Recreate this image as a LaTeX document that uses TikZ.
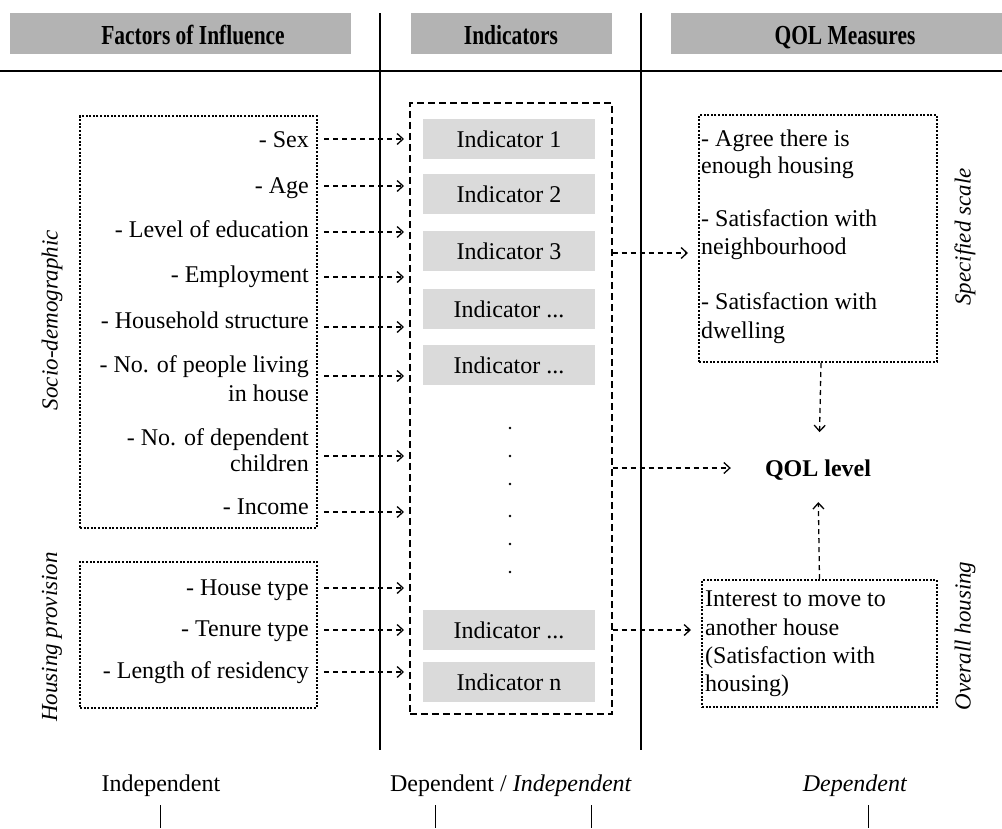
\documentclass[tikz,border=0pt]{standalone}
\usepackage{fontspec}
\setmainfont{Liberation Serif}
\newfontfamily\hdfont{Liberation Serif}[FakeStretch=0.78]
\usetikzlibrary{arrows.meta,calc}
\definecolor{hdgray}{HTML}{B3B3B3}
\definecolor{indgray}{HTML}{DADADA}
\begin{document}
\begin{tikzpicture}[x=1pt,y=-1pt,
  hdbox/.style={fill=hdgray, draw=none, anchor=north west, inner sep=0},
  hdtxt/.style={font=\hdfont\bfseries\fontsize{27.5}{30}\selectfont, anchor=base, inner sep=0},
  txt/.style={font=\fontsize{24}{28}\selectfont, inner sep=0},
  lt/.style={txt, anchor=base east},
  rt/.style={txt, anchor=base west},
  rot/.style={inner sep=0, font=\itshape\fontsize{23}{28}\selectfont, rotate=90},
  dotbox/.style={draw, line width=2pt, dash pattern=on 2pt off 1.6pt, anchor=north west, inner sep=0},
  dashbox/.style={draw, line width=1.7pt, dash pattern=on 7pt off 4pt, anchor=north west, inner sep=0},
  indbox/.style={fill=indgray, minimum width=172pt, minimum height=40pt, inner sep=0, font=\fontsize{24}{28}\selectfont},
  arr/.style={line width=1.3pt, dash pattern=on 5pt off 4pt, -{Straight Barb[length=6pt,width=11pt,line width=1.3pt]}},
  vline/.style={line width=1.4pt},
  tick/.style={line width=0.9pt},
  dot/.style={circle, fill, inner sep=0, minimum size=2.8pt}
]
\useasboundingbox (0,0) rectangle (1002,828);

% header
\node[hdbox, minimum width=341pt, minimum height=41pt] (h1) at (10,13) {};
\node[hdbox, minimum width=201pt, minimum height=41pt] (h2) at (411,13) {};
\node[hdbox, minimum width=331pt, minimum height=41pt] (h3) at (671,13) {};
\node[hdtxt] (h1t) at (193,44) {Factors of Influence};
\node[hdtxt] (h2t) at (511,44) {Indicators};
\node[hdtxt] (h3t) at (845,44) {QOL Measures};
\draw[line width=2.2pt] (0,71) -- (1002,71);
\draw[vline] (380,13) -- (380,750);
\draw[vline] (641,13) -- (641,750);

% left boxes
\node[dotbox, minimum width=237pt, minimum height=412pt] (socio) at (79,115) {};
\node[dotbox, minimum width=237pt, minimum height=146pt] (house) at (79,561) {};
\node[rot] (sociol) at (52,320) {Socio-demographic};
\node[rot] (housel) at (52,637) {Housing provision};

\node[lt] (f1) at (309,147) {- Sex};
\node[lt] (f2) at (309,193) {- Age};
\node[lt] (f3) at (309,237) {- Level of education};
\node[lt] (f4) at (309,282) {- Employment};
\node[lt] (f5) at (309,328) {- Household structure};
\node[lt] (f6a) at (309,372) {- No. of people living};
\node[lt] (f6b) at (309,401) {in house};
\node[lt] (f7a) at (309,445) {- No. of dependent};
\node[lt] (f7b) at (309,471) {children};
\node[lt] (f8) at (309,514) {- Income};
\node[lt] (f9) at (309,595) {- House type};
\node[lt] (f10) at (309,636) {- Tenure type};
\node[lt] (f11) at (309,678) {- Length of residency};

% indicators
\node[dashbox, minimum width=202pt, minimum height=611pt] (ind) at (409,102) {};
\node[indbox] (i1) at (509,139) {Indicator 1};
\node[indbox] (i2) at (509,194) {Indicator 2};
\node[indbox] (i3) at (509,251) {Indicator 3};
\node[indbox] (i4) at (509,309) {Indicator ...};
\node[indbox] (i5) at (509,365) {Indicator ...};
\node[indbox] (i6) at (509,630) {Indicator ...};
\node[indbox] (i7) at (509,682) {Indicator n};
\node[dot] (d1) at (510,428) {};
\node[dot] (d2) at (510,456) {};
\node[dot] (d3) at (510,484) {};
\node[dot] (d4) at (510,516) {};
\node[dot] (d5) at (510,544) {};
\node[dot] (d6) at (510,572) {};

% left arrows
\foreach \y in {139,186,232,277,327,376,456,512}{
  \draw[arr, shorten >=5pt] ($(socio.east |- 0,\y)+(6,0)$) -- (ind.west |- 0,\y);
}
\foreach \y in {588,630,672}{
  \draw[arr, shorten >=5pt] ($(house.east |- 0,\y)+(6,0)$) -- (ind.west |- 0,\y);
}

% right side
\node[dotbox, minimum width=238pt, minimum height=247pt] (spec) at (698,114) {};
\node[dotbox, minimum width=235pt, minimum height=127pt] (over) at (701,579) {};
\node[rot] (specl) at (965,237) {Specified scale};
\node[rot] (overl) at (965,636) {Overall housing};

\node[rt] (s1) at (701,146) {- Agree there is};
\node[rt] (s2) at (701,173) {enough housing};
\node[rt] (s3) at (701,226) {- Satisfaction with};
\node[rt] (s4) at (701,254) {neighbourhood};
\node[rt] (s5) at (701,309) {- Satisfaction with};
\node[rt] (s6) at (701,338) {dwelling};

\node[rt] (o1) at (705,606) {Interest to move to};
\node[rt] (o2) at (705,635) {another house};
\node[rt] (o3) at (705,663) {(Satisfaction with};
\node[rt] (o4) at (705,691) {housing)};

\node[txt, anchor=base, font=\bfseries\fontsize{24}{28}\selectfont] (qol) at (818,476) {QOL level};

\draw[arr, shorten >=10pt] (ind.east |- 0,253) -- (spec.west |- 0,253);
\draw[arr] (ind.east |- 0,468) -- ($(qol.west |- 0,468)+(-34,0)$);
\draw[arr, shorten >=10pt] (ind.east |- 0,630) -- (over.west |- 0,630);
\draw[arr, shorten >=27pt] ($(spec.south)+(3,0)$) -- ($(qol.north)+(1,0)$);
\draw[arr, shorten >=22pt] (over.north) -- ($(qol.south)+(0,0)$);

% bottom
\node[txt, anchor=base] (indep) at (161,791) {Independent};
\node[txt, anchor=base] (depind) at (511,791) {Dependent / \textit{Independent}};
\node[txt, anchor=base] (dep) at (855,791) {\textit{Dependent}};
\draw[tick] (160,805) -- (160,828);
\draw[tick] (435,805) -- (435,828);
\draw[tick] (591,805) -- (591,828);
\draw[tick] (868,805) -- (868,828);
\end{tikzpicture}
\end{document}
